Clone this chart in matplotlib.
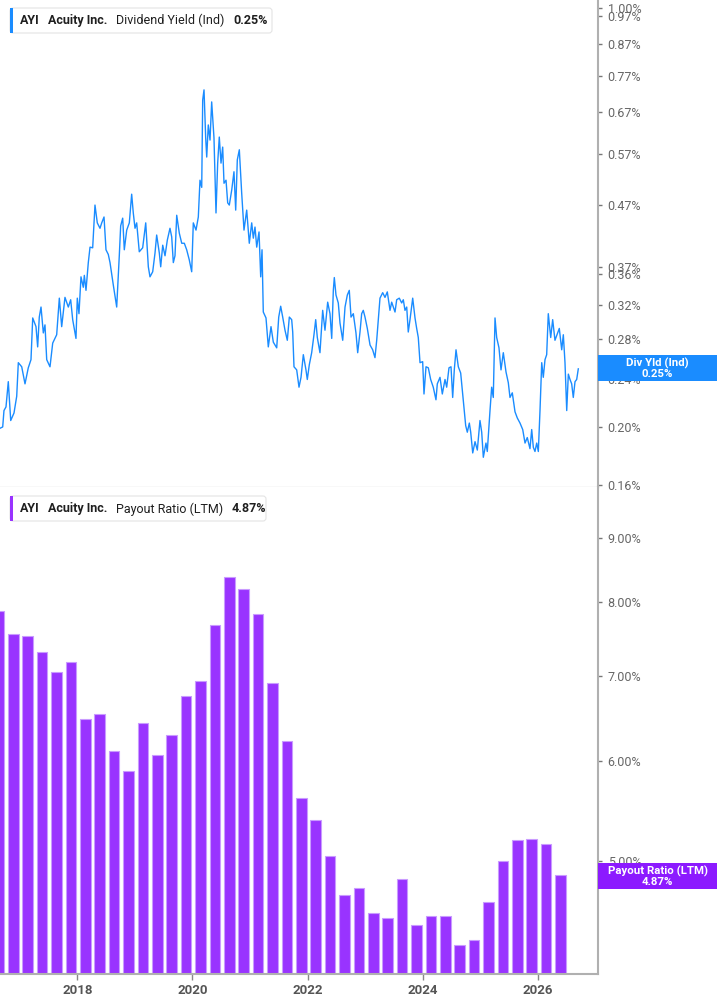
import numpy as np
import matplotlib.pyplot as plt
from matplotlib.patches import FancyBboxPatch, Rectangle
from matplotlib.text import Annotation
from matplotlib.transforms import IdentityTransform
from matplotlib.ticker import FixedLocator, NullLocator, FuncFormatter

plt.rcParams['font.family'] = ['Roboto', 'DejaVu Sans']

# --- Data ---
yld_years = [
    2016.658, 2016.705, 2016.727, 2016.762, 2016.802, 2016.844, 2016.901, 2016.948, 2016.976, 2017.035,
    2017.092, 2017.149, 2017.196, 2017.226, 2017.283, 2017.312, 2017.340, 2017.370, 2017.410, 2017.439,
    2017.469, 2017.526, 2017.573, 2017.642, 2017.688, 2017.729, 2017.786, 2017.844, 2017.885, 2017.920,
    2017.977, 2018.000, 2018.029, 2018.064, 2018.104, 2018.122, 2018.151, 2018.191, 2018.221, 2018.267,
    2018.307, 2018.347, 2018.394, 2018.424, 2018.464, 2018.498, 2018.538, 2018.568, 2018.625, 2018.684,
    2018.729, 2018.753, 2018.788, 2018.816, 2018.858, 2018.903, 2018.944, 2018.972, 2019.002, 2019.031,
    2019.076, 2019.135, 2019.188, 2019.233, 2019.262, 2019.309, 2019.349, 2019.378, 2019.424, 2019.448,
    2019.483, 2019.523, 2019.563, 2019.609, 2019.639, 2019.667, 2019.696, 2019.726, 2019.771, 2019.813,
    2019.858, 2019.899, 2019.944, 2019.986, 2020.014, 2020.061, 2020.101, 2020.130, 2020.160, 2020.177,
    2020.200, 2020.229, 2020.247, 2020.274, 2020.304, 2020.333, 2020.373, 2020.408, 2020.437, 2020.465,
    2020.495, 2020.524, 2020.547, 2020.582, 2020.611, 2020.639, 2020.681, 2020.720, 2020.750, 2020.778,
    2020.813, 2020.854, 2020.894, 2020.941, 2020.986, 2021.028, 2021.056, 2021.085, 2021.115, 2021.155,
    2021.184, 2021.207, 2021.229, 2021.276, 2021.316, 2021.363, 2021.403, 2021.462, 2021.497, 2021.531,
    2021.566, 2021.606, 2021.646, 2021.681, 2021.722, 2021.740, 2021.762, 2021.809, 2021.849, 2021.884,
    2021.924, 2021.970, 2021.993, 2022.028, 2022.069, 2022.109, 2022.139, 2022.167, 2022.213, 2022.260,
    2022.300, 2022.347, 2022.387, 2022.417, 2022.445, 2022.462, 2022.491, 2022.531, 2022.561, 2022.608,
    2022.648, 2022.688, 2022.722, 2022.752, 2022.792, 2022.838, 2022.868, 2022.908, 2022.937, 2022.965,
    2022.995, 2023.035, 2023.082, 2023.128, 2023.168, 2023.198, 2023.226, 2023.255, 2023.302, 2023.342,
    2023.382, 2023.429, 2023.458, 2023.516, 2023.545, 2023.590, 2023.632, 2023.660, 2023.689, 2023.719,
    2023.746, 2023.776, 2023.823, 2023.863, 2023.892, 2023.920, 2023.950, 2023.996, 2024.019, 2024.054,
    2024.094, 2024.135, 2024.180, 2024.227, 2024.250, 2024.297, 2024.337, 2024.384, 2024.413, 2024.453,
    2024.488, 2024.517, 2024.545, 2024.575, 2024.615, 2024.656, 2024.701, 2024.743, 2024.771, 2024.806,
    2024.830, 2024.865, 2024.905, 2024.945, 2024.991, 2025.021, 2025.049, 2025.095, 2025.118, 2025.165,
    2025.194, 2025.222, 2025.252, 2025.281, 2025.321, 2025.356, 2025.396, 2025.443, 2025.483, 2025.512,
    2025.552, 2025.599, 2025.639, 2025.686, 2025.733, 2025.773, 2025.812, 2025.859, 2025.889, 2025.917,
    2025.946, 2025.976, 2026.004, 2026.033, 2026.063, 2026.090, 2026.120, 2026.149, 2026.177, 2026.219,
    2026.253, 2026.293, 2026.333, 2026.368, 2026.410, 2026.438, 2026.467, 2026.497, 2026.525, 2026.554,
    2026.583, 2026.611, 2026.641, 2026.670, 2026.698,
]
yld_values = [
    0.199, 0.200, 0.213, 0.216, 0.238, 0.205, 0.211, 0.225, 0.256, 0.252,
    0.236, 0.251, 0.259, 0.304, 0.294, 0.272, 0.305, 0.317, 0.287, 0.296,
    0.259, 0.252, 0.276, 0.285, 0.328, 0.294, 0.329, 0.317, 0.326, 0.302,
    0.281, 0.328, 0.309, 0.356, 0.342, 0.358, 0.338, 0.376, 0.399, 0.398,
    0.469, 0.438, 0.429, 0.438, 0.448, 0.395, 0.388, 0.376, 0.345, 0.317,
    0.386, 0.433, 0.446, 0.395, 0.426, 0.438, 0.489, 0.455, 0.429, 0.438,
    0.392, 0.398, 0.438, 0.370, 0.356, 0.363, 0.390, 0.418, 0.390, 0.370,
    0.402, 0.386, 0.410, 0.429, 0.415, 0.376, 0.386, 0.451, 0.421, 0.405,
    0.405, 0.395, 0.380, 0.363, 0.438, 0.426, 0.448, 0.516, 0.502, 0.702,
    0.730, 0.607, 0.564, 0.638, 0.602, 0.697, 0.607, 0.455, 0.551, 0.609,
    0.551, 0.586, 0.510, 0.516, 0.473, 0.469, 0.497, 0.533, 0.460, 0.558,
    0.580, 0.491, 0.426, 0.460, 0.405, 0.438, 0.413, 0.431, 0.399, 0.423,
    0.356, 0.395, 0.311, 0.304, 0.272, 0.294, 0.277, 0.271, 0.305, 0.318,
    0.305, 0.290, 0.279, 0.305, 0.302, 0.288, 0.252, 0.249, 0.233, 0.242,
    0.264, 0.249, 0.240, 0.254, 0.266, 0.285, 0.302, 0.282, 0.266, 0.313,
    0.290, 0.323, 0.309, 0.281, 0.338, 0.355, 0.332, 0.322, 0.298, 0.279,
    0.317, 0.332, 0.338, 0.305, 0.309, 0.287, 0.266, 0.288, 0.309, 0.313,
    0.305, 0.292, 0.274, 0.269, 0.261, 0.279, 0.302, 0.328, 0.335, 0.329,
    0.336, 0.313, 0.323, 0.311, 0.326, 0.328, 0.322, 0.326, 0.313, 0.317,
    0.288, 0.302, 0.328, 0.304, 0.292, 0.282, 0.256, 0.257, 0.227, 0.252,
    0.251, 0.240, 0.233, 0.222, 0.236, 0.242, 0.227, 0.240, 0.233, 0.251,
    0.252, 0.224, 0.249, 0.269, 0.252, 0.246, 0.222, 0.201, 0.196, 0.203,
    0.196, 0.181, 0.189, 0.183, 0.205, 0.196, 0.178, 0.188, 0.182, 0.213,
    0.233, 0.224, 0.304, 0.282, 0.271, 0.249, 0.266, 0.247, 0.237, 0.224,
    0.228, 0.212, 0.207, 0.203, 0.198, 0.188, 0.192, 0.184, 0.198, 0.185,
    0.182, 0.188, 0.182, 0.213, 0.256, 0.242, 0.259, 0.264, 0.309, 0.282,
    0.302, 0.279, 0.286, 0.292, 0.269, 0.285, 0.256, 0.213, 0.245, 0.240,
    0.236, 0.224, 0.238, 0.240, 0.250,
]

payout_years = [
    2016.64, 2016.89, 2017.14, 2017.39, 2017.64, 2017.89, 2018.14, 2018.39, 2018.64, 2018.89,
    2019.14, 2019.39, 2019.64, 2019.89, 2020.14, 2020.39, 2020.64, 2020.89, 2021.14, 2021.39,
    2021.64, 2021.89, 2022.14, 2022.39, 2022.64, 2022.89, 2023.14, 2023.39, 2023.64, 2023.89,
    2024.14, 2024.39, 2024.64, 2024.89, 2025.14, 2025.39, 2025.64, 2025.89, 2026.14, 2026.39,
]
payout_values = [
    7.87, 7.56, 7.52, 7.31, 7.05, 7.18, 6.47, 6.53, 6.11, 5.89,
    6.42, 6.06, 6.29, 6.75, 6.93, 7.68, 8.38, 8.20, 7.84, 6.91,
    6.22, 5.61, 5.39, 5.04, 4.70, 4.76, 4.55, 4.51, 4.84, 4.45,
    4.52, 4.52, 4.29, 4.33, 4.64, 5.00, 5.19, 5.20, 5.16, 4.87,
]

yld_ticks = [0.16, 0.20, 0.24, 0.28, 0.32, 0.36, 0.37, 0.47, 0.57, 0.67, 0.77, 0.87, 0.97, 1.00]
payout_ticks = [5, 6, 7, 8, 9]
year_ticks = [2018, 2020, 2022, 2024, 2026]

BLUE = '#1a8cff'
PURPLE = '#9933ff'

# --- Layout in pixels ---
W, H = 717, 1005
fig = plt.figure(figsize=(W / 100, H / 100), dpi=100)


def fx(px):
    return px / W


def fy(py):
    return 1 - py / H


ax1 = fig.add_axes([0, fy(487), fx(598), fy(0) - fy(487)])
ax2 = fig.add_axes([0, fy(974), fx(598), fy(487) - fy(974)], sharex=ax1)

# --- Top: dividend yield ---
ax1.plot(yld_years, yld_values, color=BLUE, lw=1)
ax1.set_yscale('log')
ax1.set_ylim(0.1588, 1.031)
ax1.yaxis.set_major_locator(FixedLocator(yld_ticks))
ax1.yaxis.set_minor_locator(NullLocator())
ax1.yaxis.set_major_formatter(FuncFormatter(lambda v, p: f'{v:.2f}%'))

# --- Bottom: payout ratio ---
ax2.set_yscale('log', nonpositive='clip')
ax2.bar(payout_years, payout_values, width=0.185, color=PURPLE,
        edgecolor='#c99bff', linewidth=0.8)
ax2.set_ylim(4.07, 9.87)
ax2.yaxis.set_major_locator(FixedLocator(payout_ticks))
ax2.yaxis.set_minor_locator(NullLocator())
ax2.yaxis.set_major_formatter(FuncFormatter(lambda v, p: f'{v:.2f}%'))

ax2.set_xlim(2016.658, 2027.04)
ax2.set_xticks(year_ticks)
ax2.set_xticklabels([str(y) for y in year_ticks], fontweight='bold')
ax2.xaxis.set_minor_locator(NullLocator())
ax2.tick_params(axis='x', length=4, width=1, color='#888888', labelcolor='#555555',
                labelsize=9.5, pad=3)
ax1.tick_params(axis='x', which='both', bottom=False, labelbottom=False)

for ax in (ax1, ax2):
    ax.set_facecolor('white')
    ax.yaxis.tick_right()
    ax.tick_params(axis='y', direction='out', length=3, width=1, color='#777777',
                   labelcolor='#666666', labelsize=9, pad=4)
    ax.spines['left'].set_visible(False)
    ax.spines['top'].set_visible(False)
    ax.spines['right'].set_color('#b0b0b0')
    ax.spines['right'].set_linewidth(1.5)

ax1.spines['bottom'].set_color('#dcdcdc')
ax1.spines['bottom'].set_linewidth(1)
ax2.spines['bottom'].set_color('#b0b0b0')
ax2.spines['bottom'].set_linewidth(1.5)


# --- Legend boxes (top-left of each panel) ---
def legend_box(top_px, right_px, accent, pieces):
    x0, y0 = 10, H - top_px - 25
    fig.add_artist(FancyBboxPatch((x0, y0), right_px - x0, 25,
                                  boxstyle='round,pad=0,rounding_size=3',
                                  transform=IdentityTransform(), facecolor='white',
                                  edgecolor='#e4e4e4', lw=0.8, zorder=4))
    fig.add_artist(Rectangle((x0, y0), 3, 25, transform=IdentityTransform(),
                             facecolor=accent, edgecolor='none', zorder=5))
    prev = None
    for txt, weight in pieces:
        kw = dict(fontsize=9, fontweight=weight, color='#1f1f1f', va='center',
                  annotation_clip=False, zorder=6)
        if prev is None:
            ann = Annotation(txt, xy=(fx(20), fy(top_px + 12.8)),
                             xycoords='figure fraction', **kw)
        else:
            ann = Annotation(txt, xy=(1, 0.5), xycoords=prev, xytext=(6.2, 0),
                             textcoords='offset points', **kw)
        fig.add_artist(ann)
        prev = ann


legend_box(8, 272, BLUE,
           [('AYI', 'bold'), ('Acuity Inc.', 'bold'),
            ('Dividend Yield (Ind)', 'normal'), ('0.25%', 'bold')])
legend_box(496, 266, PURPLE,
           [('AYI', 'bold'), ('Acuity Inc.', 'bold'),
            ('Payout Ratio (LTM)', 'normal'), ('4.87%', 'bold')])


# --- Current value tags on the right axis ---
def value_tag(top_px, color, label):
    fig.add_artist(Rectangle((fx(598), fy(top_px + 26)), fx(717) - fx(598), 26 / H,
                             transform=fig.transFigure, facecolor=color,
                             edgecolor='none', zorder=5))
    fig.text(fx(657.5), fy(top_px + 13), label, ha='center', va='center',
             color='white', fontsize=8.2, fontweight='bold', linespacing=1.0, zorder=6)


value_tag(355, BLUE, 'Div Yld (Ind)\n0.25%')
value_tag(863, '#8c1aff', 'Payout Ratio (LTM)\n4.87%')

fig.savefig('out.png', dpi=100, facecolor='white')
